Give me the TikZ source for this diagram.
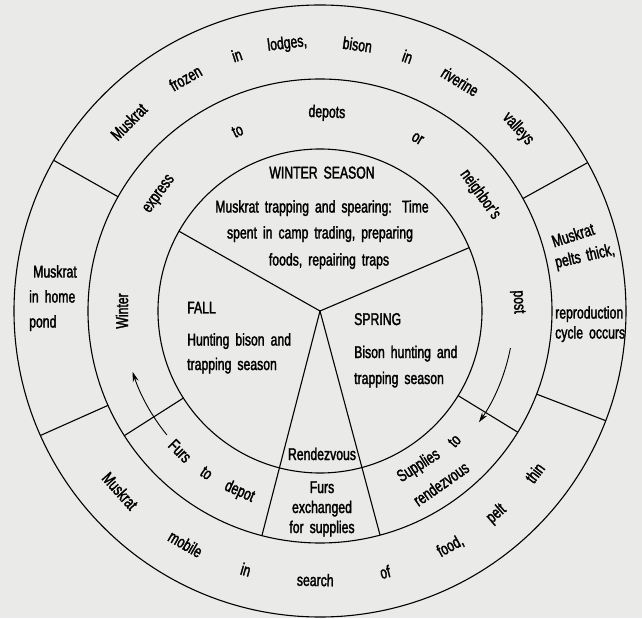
\documentclass[tikz,border=0pt]{standalone}
\usepackage{fontspec}
\setmainfont{Liberation Sans}[FakeStretch=0.72,FakeBold=1.8]
\usetikzlibrary{arrows.meta}
\definecolor{paper}{RGB}{234,234,232}
\newcommand\lblf{\fontsize{17}{26}\selectfont\spaceskip=6pt plus 1pt\relax}
\begin{document}
\begin{tikzpicture}[x=1pt,y=1pt,
  ring/.style={draw=black, line width=1.1pt},
  sep/.style={draw=black, line width=1.1pt},
  wd/.style={font=\lblf, inner sep=0pt, text=black},
  arr/.style={draw=black, line width=0.9pt, -{Stealth[length=10pt,width=6pt]}}]
\fill[paper] (-320,-307) rectangle (322,311);
\useasboundingbox (-320,-307) rectangle (322,311);
\coordinate (c) at (0,0);
% rings
\draw[ring] (c) circle[radius=306];
\draw[ring] (c) circle[radius=232];
\draw[ring] (c) circle[radius=162];
% spokes of the inner disc
\draw[sep] (c) -- (150.5:162);
\draw[sep] (c) -- (23:162);
\draw[sep] (c) -- (255.5:232);
\draw[sep] (c) -- (285:232);
% separators in the outer ring
\foreach \a in {150.5,29,204,-21} \draw[sep] (\a:232) -- (\a:306);
% separators in the middle ring
\foreach \a in {212.5,-31.5} \draw[sep] (\a:162) -- (\a:232);
% outer ring, top
\foreach \a/\w [count=\i] in {135.3/Muskrat, 120/frozen, 108/in, 97/{lodges,}, 82/bison, 71/in, 58.6/riverine, 42.6/valleys}
  \node[wd, rotate=\a-90] (ot\i) at (\a:269) {\w};
% outer ring, bottom
\foreach \a/\w [count=\i] in {222/Muskrat, 240/mobile, 254/in, 269/search, 284/of, 299/{food,}, 311/pelt, 323/thin}
  \node[wd, rotate=\a+90] (ob\i) at (\a:269) {\w};
% middle ring, top
\foreach \a/\w [count=\i] in {180/Winter, 144/express, 114.6/to, 88/depots, 60.5/or, 36/neighbor's, 2.6/post}
  \node[wd, rotate=\a-90] (mt\i) at (\a:198) {\w};
% middle ring, bottom left
\foreach \a/\w [count=\i] in {225/Furs, 235/to, 246/depot}
  \node[wd, rotate=\a+90] (mb\i) at (\a:198) {\w};
% middle ring, bottom right
\node[wd, rotate=32.5] (sup) at (-57.5:184) {Supplies};
\node[wd, rotate=46] (supto) at (-44:187) {to};
\node[wd, rotate=35] (rdv) at (-55:211) {rendezvous};
% inner disc
\node[wd, anchor=base] (ws) at (2,132.5) {WINTER SEASON};
\node[wd, anchor=base] (w1) at (2,98.5) {Muskrat trapping and spearing: \kern3pt Time};
\node[wd, anchor=base] (w2) at (0,72.5) {spent in camp trading, preparing};
\node[wd, anchor=base] (w3) at (9,45.5) {foods, repairing traps};
\node[wd, anchor=base west] (fall) at (-133,-2.5) {FALL};
\node[wd, anchor=base west] (f1) at (-133,-34.5) {Hunting bison and};
\node[wd, anchor=base west] (f2) at (-133,-59) {trapping season};
\node[wd, anchor=base west] (spr) at (34,-14) {SPRING};
\node[wd, anchor=base west] (s1) at (34,-47) {Bison hunting and};
\node[wd, anchor=base west] (s2) at (34,-73) {trapping season};
\node[wd, anchor=base] (rz) at (2,-149) {Rendezvous};
\node[wd, anchor=base] (fx1) at (2,-182) {Furs};
\node[wd, anchor=base] (fx2) at (2,-202) {exchanged};
\node[wd, anchor=base] (fx3) at (2,-222) {for supplies};
% outer ring, left box
\node[wd, anchor=base west] (l1) at (-287,33.5) {Muskrat};
\node[wd, anchor=base west] (l2) at (-291,8.5) {in home};
\node[wd, anchor=base west] (l3) at (-291,-16.5) {pond};
% outer ring, right box
\node[wd, rotate=18] (r1) at (253,76) {Muskrat};
\node[wd, rotate=13] (r2) at (265,54) {pelts thick,};
\node[wd, anchor=base west] (r3) at (235,-7.5) {reproduction};
\node[wd, anchor=base west] (r4) at (235,-27.5) {cycle occurs};
% arrows
\draw[arr] (219:197) arc[start angle=219, end angle=198, radius=197];
\draw[arr] (-11:194) arc[start angle=-11, end angle=-35, radius=194];
\end{tikzpicture}
\end{document}
